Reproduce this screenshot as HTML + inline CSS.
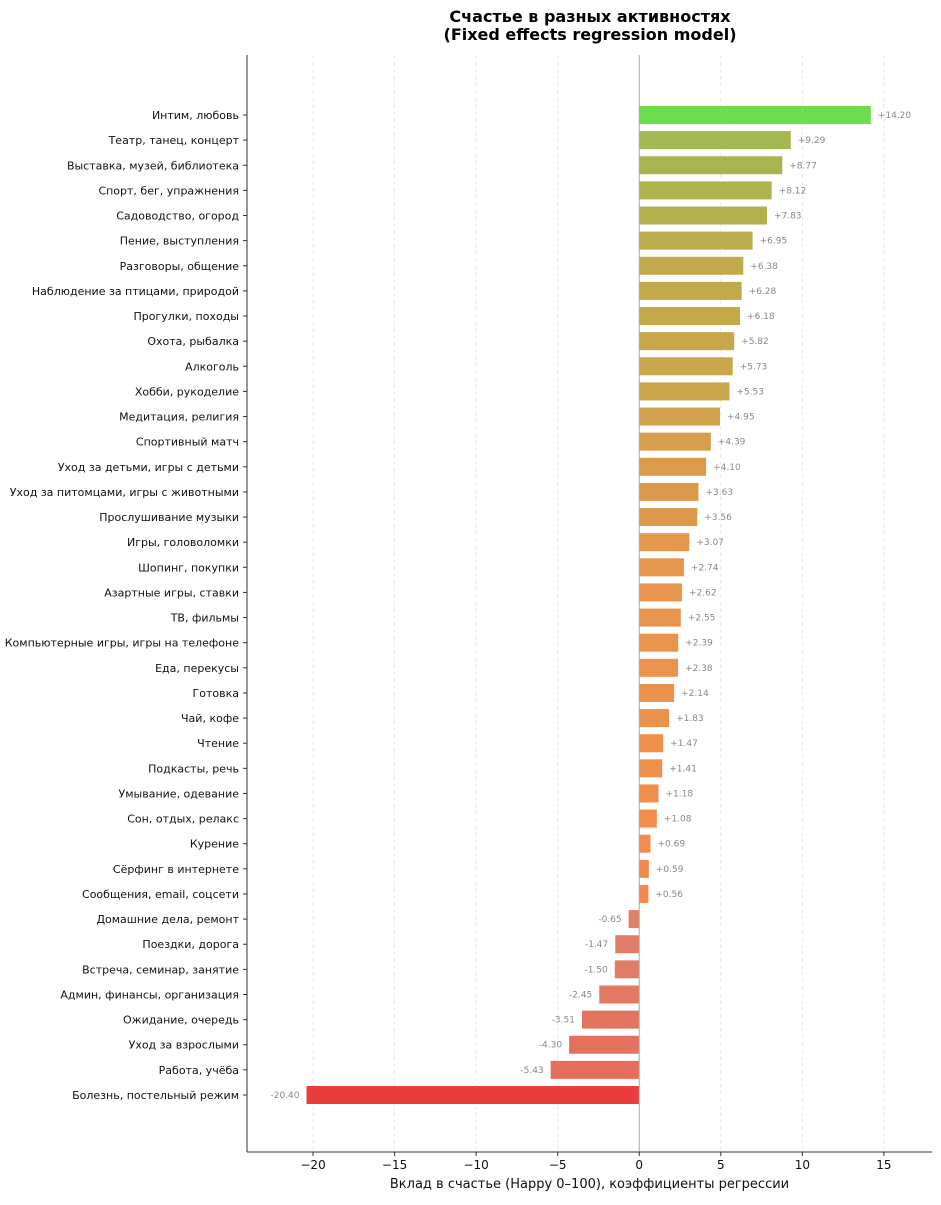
<!DOCTYPE html>
<html><head><meta charset="utf-8"><style>
body{margin:0;background:#fff;font-family:"Liberation Sans","DejaVu Sans",sans-serif;}
svg text{font-family:"DejaVu Sans","Liberation Sans",sans-serif;}
</style></head><body>
<svg id="c" width="941" height="1200" xmlns="http://www.w3.org/2000/svg">
<text x="590" y="22" text-anchor="middle" font-size="16" font-weight="bold">Счастье в разных активностях</text>
<text x="590" y="40" text-anchor="middle" font-size="16" font-weight="bold">(Fixed effects regression model)</text>
<g id="grid"></g><g id="bars"></g><g id="axes"></g>
</svg>
<script>
const categories=["Интим, любовь","Театр, танец, концерт","Выставка, музей, библиотека","Спорт, бег, упражнения","Садоводство, огород","Пение, выступления","Разговоры, общение","Наблюдение за птицами, природой","Прогулки, походы","Охота, рыбалка","Алкоголь","Хобби, рукоделие","Медитация, религия","Спортивный матч","Уход за детьми, игры с детьми","Уход за питомцами, игры с животными","Прослушивание музыки","Игры, головоломки","Шопинг, покупки","Азартные игры, ставки","ТВ, фильмы","Компьютерные игры, игры на телефоне","Еда, перекусы","Готовка","Чай, кофе","Чтение","Подкасты, речь","Умывание, одевание","Сон, отдых, релакс","Курение","Сёрфинг в интернете","Сообщения, email, соцсети","Домашние дела, ремонт","Поездки, дорога","Встреча, семинар, занятие","Админ, финансы, организация","Ожидание, очередь","Уход за взрослыми","Работа, учёба","Болезнь, постельный режим"];
const values=[14.20,9.29,8.77,8.12,7.83,6.95,6.38,6.28,6.18,5.82,5.73,5.53,4.95,4.39,4.10,3.63,3.56,3.07,2.74,2.62,2.55,2.39,2.38,2.14,1.83,1.47,1.41,1.18,1.08,0.69,0.59,0.56,-0.65,-1.47,-1.50,-2.45,-3.51,-4.30,-5.43,-20.40];
const xTicks=[-20,-15,-10,-5,0,5,10,15];
const NS="http://www.w3.org/2000/svg";
const L=247,R=932,T=55,B=1152,xmin=-24.05,xmax=17.95;
const x=v=>L+(v-xmin)/(xmax-xmin)*(R-L);
const y0=115,y1=1095;
const step=(y1-y0)/(categories.length-1);
const y=i=>y0+i*step;
const stops=[[-20.4,[232,61,60]],[-5,[228,110,92]],[-0.6,[226,128,104]],[0.5,[243,138,75]],[2.5,[232,148,76]],[4,[217,155,74]],[6,[197,168,74]],[8,[176,177,77]],[9.3,[163,184,80]],[14.2,[109,220,79]]];
function col(v){if(v<=stops[0][0])return stops[0][1];for(let k=1;k<stops.length;k++){if(v<=stops[k][0]){const a=stops[k-1],b=stops[k],t=(v-a[0])/(b[0]-a[0]);return a[1].map((c,j)=>Math.round(c+(b[1][j]-c)*t));}}return stops[stops.length-1][1];}
function mk(t,a,p){const e=document.createElementNS(NS,t);for(const k in a)e.setAttribute(k,a[k]);p.appendChild(e);return e;}
const G=document.getElementById('grid'),BA=document.getElementById('bars'),AX=document.getElementById('axes');
xTicks.forEach(t=>{if(t===0)return;const l=mk('line',{x1:x(t),x2:x(t),y1:T,y2:B,stroke:'#e3e3e3','stroke-dasharray':'4,3','stroke-width':0.8},G);

});
values.forEach((v,i)=>{const c=col(v);const x1=x(Math.min(0,v)),w=Math.abs(x(v)-x(0));
const r=mk('rect',{x:x1,y:y(i)-9,width:w,height:18,fill:`rgb(${c})`},BA);


const lab=mk('text',{x:v>=0?x(v)+7:x(v)-7,y:y(i)+3,'font-size':9,fill:'#888','text-anchor':v>=0?'start':'end'},BA);
lab.textContent=(v>=0?'+':'')+v.toFixed(2);


const cl=mk('text',{x:L-8,y:y(i)+4,'font-size':11,'text-anchor':'end',fill:'#111'},AX);
cl.textContent=categories[i];


const tk=mk('line',{x1:L-4,x2:L,y1:y(i),y2:y(i),stroke:'#333'},AX);

});
const z=mk('line',{x1:x(0),x2:x(0),y1:T,y2:B,stroke:'#aaa','stroke-width':1},AX);


const ya=mk('line',{x1:L,x2:L,y1:T,y2:B,stroke:'#333','stroke-width':1},AX);


const xa=mk('line',{x1:L,x2:R,y1:B,y2:B,stroke:'#333','stroke-width':1},AX);


xTicks.forEach(t=>{const tk=mk('line',{x1:x(t),x2:x(t),y1:B,y2:B+4,stroke:'#333'},AX);


const tl=mk('text',{x:x(t),y:B+17,'font-size':12,'text-anchor':'middle',fill:'#111'},AX);
tl.textContent=t<0?'\u2212'+Math.abs(t):String(t);

});
const xt=mk('text',{x:(L+R)/2,y:B+36,'font-size':13,'text-anchor':'middle',fill:'#111'},AX);
xt.textContent='Вклад в счастье (Happy 0–100), коэффициенты регрессии';


</script>
</body></html>
